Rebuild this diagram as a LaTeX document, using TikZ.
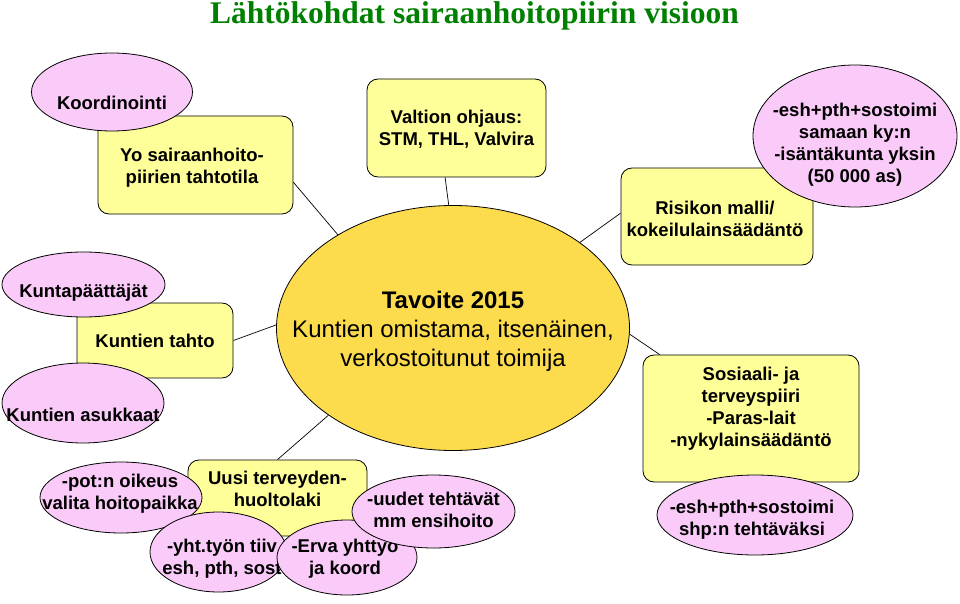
\documentclass[tikz,border=0pt]{standalone}
\usepackage{fontspec}
\setmainfont{Liberation Sans}
\newfontfamily\titlefont{Liberation Serif}
\usetikzlibrary{shapes.geometric}
\definecolor{boxyellow}{RGB}{255,255,153}
\definecolor{ovalpink}{RGB}{250,202,248}
\definecolor{goalgold}{RGB}{252,220,76}
\definecolor{titlegreen}{RGB}{0,128,0}
\tikzset{txt/.style={align=center, inner sep=0pt, font=\bfseries\fontsize{18.5}{22}\selectfont}}
\tikzset{box/.style={draw, rounded corners=11pt, fill=boxyellow, line width=0.8pt, inner sep=0pt}}
\tikzset{oval/.style={draw, ellipse, fill=ovalpink, line width=0.8pt, inner sep=0pt}}
\tikzset{ln/.style={line width=0.7pt}}

\begin{document}
\begin{tikzpicture}[x=1pt,y=-1pt]
\useasboundingbox (0,0) rectangle (960,604);

\node[anchor=base, text=titlegreen, font=\titlefont\bfseries\fontsize{31.5}{36}\selectfont] (title) at (474.5,23.5) {Lähtökohdat sairaanhoitopiirin visioon};

\node[draw, ellipse, fill=goalgold, line width=0.8pt, minimum width=353pt, minimum height=245pt,
  label={[align=center, yshift=-3pt, font=\fontsize{24}{29}\selectfont]center:{\textbf{Tavoite 2015}\\Kuntien omistama, itsenäinen,\\verkostoitunut toimija}}] (goal) at (453,328) {};

% top row
\node[box, minimum width=195pt, minimum height=98pt, label={[txt,xshift=-3.5pt,yshift=-2.5pt]center:{Yo sairaanhoito-\\piirien tahtotila}}] (yo) at (195.5,165) {};
\node[oval, minimum width=161pt, minimum height=78pt, label={[txt,yshift=-11pt]center:Koordinointi}] (koord) at (112,92) {};
\node[box, minimum width=179pt, minimum height=98pt, label={[txt,yshift=-1pt]center:{Valtion ohjaus:\\STM, THL, Valvira}}] (valtio) at (456.5,128) {};
\node[box, minimum width=192pt, minimum height=97pt, label={[txt,xshift=-2pt,yshift=-2pt]center:{Risikon malli/\\kokeilulainsäädäntö}}] (risiko) at (717,216.5) {};
\node[oval, minimum width=204pt, minimum height=142pt, label={[txt,yshift=-9pt]center:{-esh+pth+sostoimi\\samaan ky:n\\-isäntäkunta yksin\\(50 000 as)}}] (isanta) at (855,136) {};

% left side
\node[box, minimum width=156pt, minimum height=75pt, label={[txt]center:Kuntien tahto}] (tahto) at (155,340.5) {};
\node[oval, minimum width=163pt, minimum height=65pt, label={[txt,yshift=-8.5pt]center:Kuntapäättäjät}] (paattajat) at (83.5,284.5) {};
\node[oval, minimum width=162pt, minimum height=80pt, label={[txt,yshift=-12pt]center:Kuntien asukkaat}] (asukkaat) at (83,403) {};

% bottom
\node[box, minimum width=179pt, minimum height=76pt, label={[txt,yshift=9pt]center:{Uusi terveyden-\\huoltolaki}}] (uusi) at (277.5,498) {};
\node[oval, minimum width=162pt, minimum height=71pt, label={[txt,xshift=-1pt,yshift=3.5pt]center:{-pot:n oikeus\\valita hoitopaikka}}] (valinta) at (121,497.5) {};
\node[oval, minimum width=137pt, minimum height=80pt, label={[txt,xshift=3.5pt,yshift=-7pt]center:{-yht.työn tiiv\\esh, pth, sost}}] (yht) at (218.5,552) {};
\node[oval, minimum width=140pt, minimum height=75pt, label={[txt,xshift=-2pt,yshift=-1.5pt]center:{-Erva yhttyö\\ja koord}}] (erva) at (347,557.5) {};
\node[oval, minimum width=163pt, minimum height=73pt, label={[txt,yshift=1.5pt]center:{-uudet tehtävät\\mm ensihoito}}] (uudet) at (433.5,511.5) {};

% right side
\node[box, minimum width=216pt, minimum height=127pt, label={[txt,yshift=10pt]center:{Sosiaali- ja\\terveyspiiri\\-Paras-lait\\-nykylainsäädäntö}}] (sote) at (751,418.5) {};
\node[oval, minimum width=196pt, minimum height=80pt, label={[txt,xshift=-3pt,yshift=-5pt]center:{-esh+pth+sostoimi\\shp:n tehtäväksi}}] (shp) at (755,515) {};

\draw[ln] (yo.-10) -- (goal.141);
\draw[ln] (valtio.-103) -- (goal.92);
\draw[ln] (risiko.178) -- (goal.34);
\draw[ln] (tahto.east) -- (goal.179);
\draw[ln] (uusi.north) -- (goal.-145);
\draw[ln] (sote.145) -- (goal.-2);

\end{tikzpicture}
\end{document}
